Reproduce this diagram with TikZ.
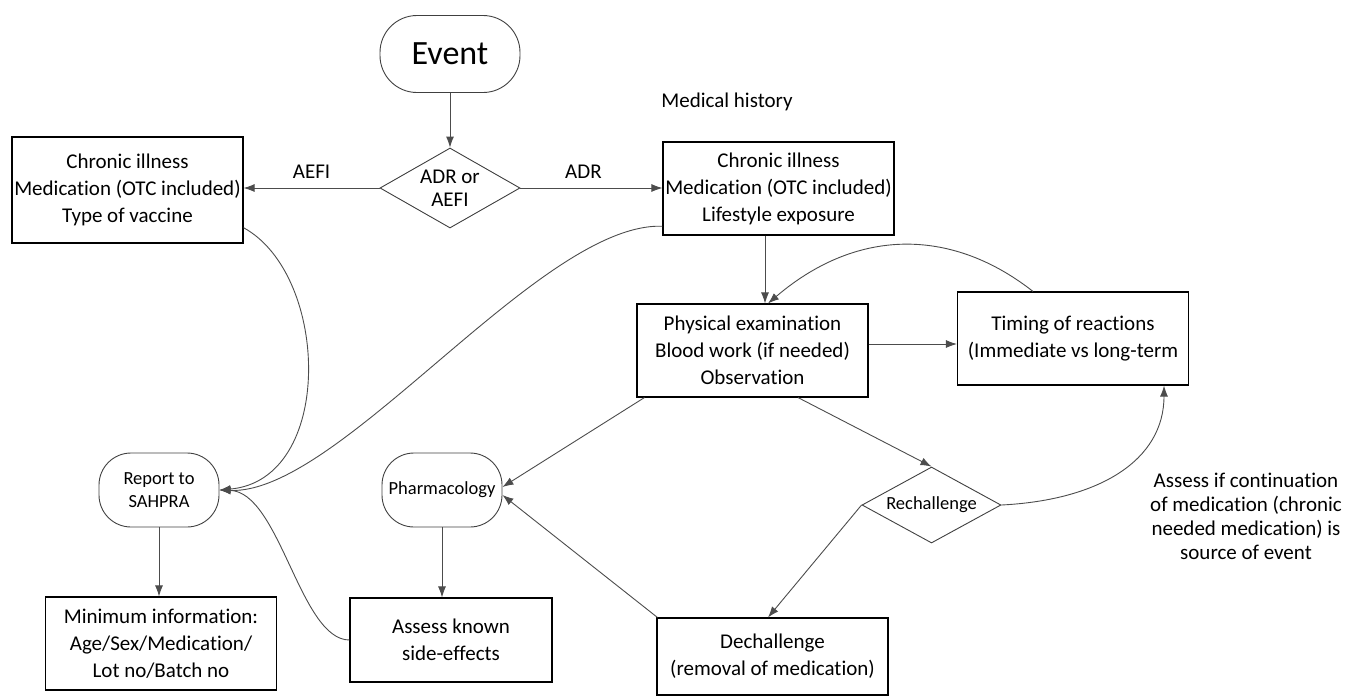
\documentclass[tikz,border=0pt]{standalone}
\usepackage{fontspec}
\setmainfont[Ligatures=NoCommon]{Carlito}
\usetikzlibrary{shapes.geometric,arrows.meta}
\newcommand{\bigfnt}{\fontsize{34}{38}\selectfont}
\newcommand{\mainfnt}{\fontsize{21}{27}\selectfont}
\newcommand{\smallfnt}{\fontsize{18.5}{23}\selectfont}

\begin{document}
\begin{tikzpicture}[x=1pt,y=-1pt,
    box/.style={draw=black,line width=1.1pt,minimum width=231pt,minimum height=93pt,inner sep=0pt,align=center,font=\mainfnt},
    pill/.style={draw=black!75,line width=0.9pt,rounded corners=32pt,minimum width=120pt,minimum height=74pt,inner sep=0pt,align=center,font=\smallfnt},
    decision/.style={draw=black!75,line width=0.9pt,diamond,inner sep=0pt,aspect=1.8,align=center},
    arr/.style={draw=black!70,line width=0.9pt,-{Latex[length=11pt,width=8pt]}},
    lbl/.style={font=\mainfnt,inner sep=0pt}]
  \useasboundingbox (0,0) rectangle (1346,697);

  % top of the chart
  \node[pill,font=\bigfnt,minimum width=140pt,minimum height=77pt,rounded corners=37pt] (event) at (450,54) {Event};
  \node[decision,minimum width=140pt,minimum height=80pt,font=\fontsize{21}{23}\selectfont] (adr) at (450,188) {ADR or\\AEFI};
  \node[box,minimum height=106pt] (lbox) at (127.5,190) {Chronic illness\\Medication (OTC included)\\Type of vaccine};
  \node[box] (med) at (778.5,188.5) {Chronic illness\\Medication (OTC included)\\Lifestyle exposure};
  \node[lbl] (medlbl) at (727,102) {Medical history};

  % middle
  \node[box] (phys) at (752.5,350.5) {Physical examination\\Blood work (if needed)\\Observation};
  \node[box] (timing) at (1073,338.5) {Timing of reactions\\(Immediate vs long-term};
  \node[pill] (report) at (159,490) {Report to\\SAHPRA};
  \node[pill] (pharma) at (442,490) {Pharmacology};
  \node[decision,minimum width=139pt,minimum height=76pt,font=\smallfnt] (rechal) at (931.5,505) {Rechallenge};
  \node[align=center,font=\fontsize{21}{24}\selectfont] (note) at (1246,516) {Assess if continuation\\of medication (chronic\\needed medication) is\\source of event};

  % bottom
  \node[box] (mininfo) at (161,643.5) {Minimum information:\\Age/Sex/Medication/\\Lot no/Batch no};
  \node[box,minimum width=202pt,minimum height=84pt] (assess) at (451,640) {Assess known\\side-effects};
  \node[box,minimum height=77pt] (dechal) at (772.5,656.5) {Dechallenge\\(removal of medication)};

  % connectors
  \draw[arr] (event) -- (adr);
  \draw[arr] (adr.west) -- (adr.west -| lbox.east) node[lbl,midway,above=9pt] {AEFI};
  \draw[arr] (adr.east) -- (adr.east -| med.west) node[lbl,midway,above=9pt,xshift=-8pt] {ADR};
  \draw[arr] ([xshift=-13.5pt]med.south) -- ([xshift=12.5pt]phys.north);
  \draw[arr] ([yshift=6.5pt]phys.east) -- ([yshift=-5.5pt]timing.west);
  \draw[arr] ([xshift=-40pt]timing.north) .. controls (955,230) and (860,225) .. ([xshift=15.5pt]phys.north);
  \draw[arr] ([xshift=45.5pt]phys.south) -- (rechal.north);
  \draw[arr] (rechal.west) -- ([xshift=-4.5pt]dechal.north);
  \draw[arr] (rechal.east) .. controls (1100,500) and (1164,460) .. ([xshift=91pt]timing.south);
  \draw[arr] ([xshift=8pt]phys.south west) -- ([yshift=3pt]pharma.east);
  \draw[arr] ([xshift=1pt]dechal.north west) -- ([yshift=-5pt]pharma.east);
  \draw[arr] (pharma.south) -- (pharma.south |- assess.north);
  \draw[arr] (report.south) -- (report.south |- mininfo.north);
  \draw[arr] (lbox.-18) .. controls (330,275) and (335,480) .. (report.east);
  \draw[arr] (med.198) .. controls (540,222) and (340,495) .. (report.east);
  \draw[arr] (assess.west) .. controls (300,640) and (280,492) .. (report.east);
\end{tikzpicture}
\end{document}
